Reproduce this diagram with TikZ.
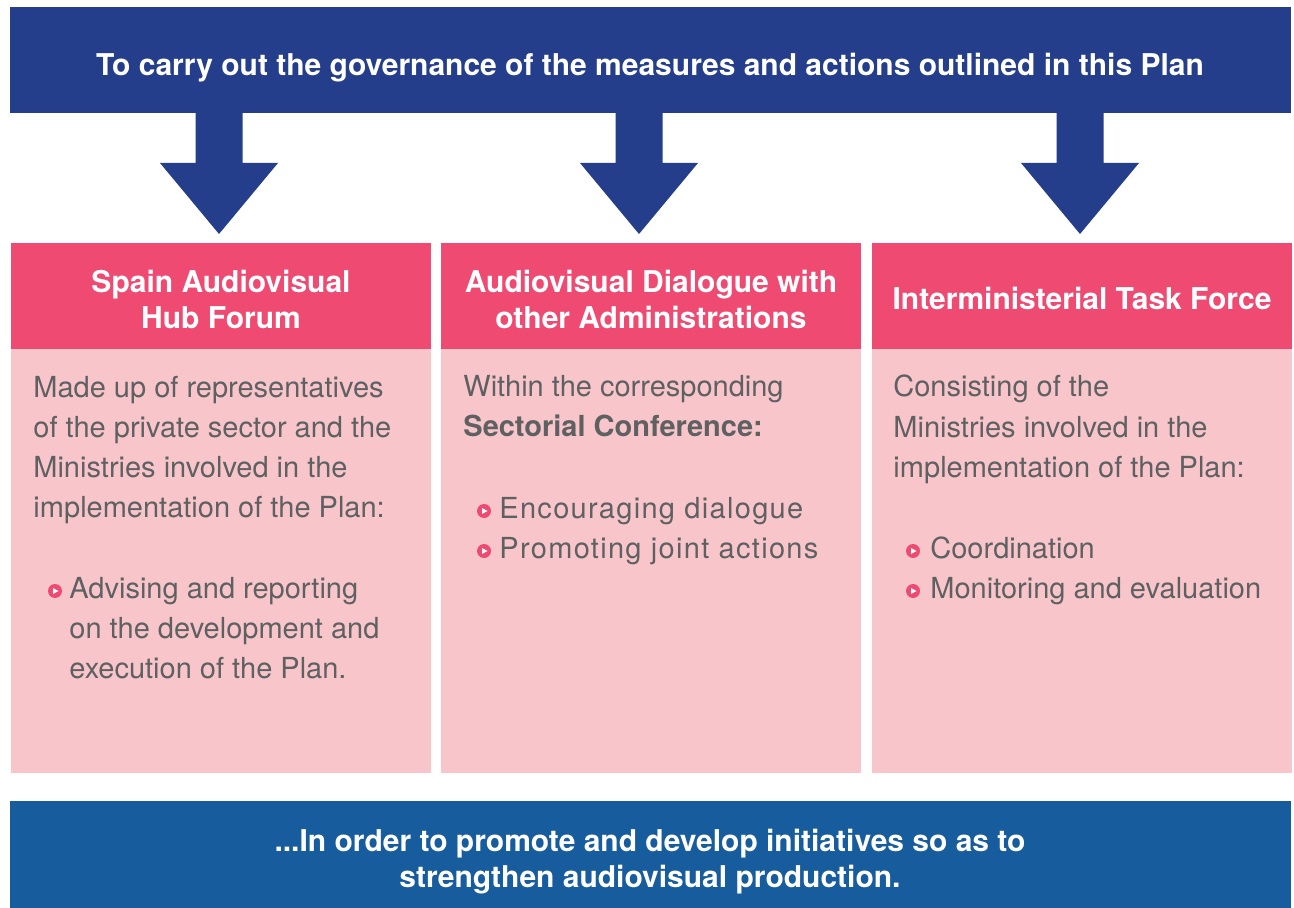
\documentclass[tikz,border=0pt]{standalone}
\usepackage{fontspec}
\setmainfont{TeX Gyre Heros}
\usepackage{tikz}

\definecolor{topblue}{HTML}{253E8B}
\definecolor{botblue}{HTML}{175C9C}
\definecolor{headpink}{HTML}{EF4A72}
\definecolor{bodypink}{HTML}{F8C6CA}
\definecolor{textgrey}{HTML}{5F6062}

\tikzset{
  band/.style={inner sep=0pt, minimum width=640.5pt, minimum height=53pt},
  headbox/.style={fill=headpink, inner sep=0pt, minimum width=210pt, minimum height=53pt},
  bodybox/.style={fill=bodypink, inner sep=0pt, minimum width=210pt, minimum height=212pt},
  headtext/.style={text=white, font=\bfseries\fontsize{15}{18}\selectfont, align=center, inner sep=0pt},
  bodytext/.style={text=textgrey, font=\fontsize{14.5}{20}\selectfont, align=left, inner sep=0pt}
}

\begin{document}
\begin{tikzpicture}[x=0.5pt,y=-0.5pt]
 \useasboundingbox (0,0) rectangle (1294,908);
 % banners
 \node[band, fill=topblue] (plan) at (650.5,60) {};
 \node[band, fill=botblue, minimum height=53.5pt] (aim) at (650.5,854.5) {};
 % the three bodies
 \node[headbox] (h1) at (221,296) {};
 \node[headbox] (h2) at (651,296) {};
 \node[headbox] (h3) at (1082,296) {};
 \node[bodybox] (c1) at (221,561) {};
 \node[bodybox] (c2) at (651,561) {};
 \node[bodybox] (c3) at (1082,561) {};
 % block arrows
 \foreach \x in {219,639,1080}
  \fill[topblue] ({\x-23.5},113) -- ({\x-23.5},163) -- ({\x-59},163) -- (\x,234)
   -- ({\x+59},163) -- ({\x+23.5},163) -- ({\x+23.5},113) -- cycle;
 % texts (base = last line)
 \node[headtext, anchor=base] (plantext) at (650,76) {To carry out the governance of the measures and actions outlined in this Plan};
 \node[headtext, anchor=base] (t1) at (221,329) {Spain Audiovisual\\Hub Forum};
 \node[headtext, anchor=base] (t2) at (651,329) {Audiovisual Dialogue with\\other Administrations};
 \node[headtext, anchor=base] (t3) at (1082,310) {Interministerial Task Force};
 \node[headtext, anchor=base] (aimtext) at (650,887) {...In order to promote and develop initiatives so as to\\strengthen audiovisual production.};
 \node[bodytext, anchor=base west] (d1) at (33,517) {Made up of representatives\\of the private sector and the\\Ministries involved in the\\implementation of the Plan:};
 \node[bodytext, anchor=base west] (b1) at (69,678) {Advising and reporting\\on the development and\\execution of the Plan.};
 \node[bodytext, anchor=base west] (d2) at (463,437) {Within the corresponding\\\textbf{Sectorial Conference:}};
 \node[bodytext, anchor=base west, font=\fontsize{14.5}{20}\selectfont\addfontfeature{LetterSpace=4.5}] (b2) at (499,558) {Encouraging dialogue\\Promoting joint actions};
 \node[bodytext, anchor=base west] (d3) at (893,477) {Consisting of the\\Ministries involved in the\\implementation of the Plan:};
 \node[bodytext, anchor=base west] (b3) at (930,598) {Coordination\\Monitoring and evaluation};
 % bullets
 \foreach \x/\y in {55/591, 484/511, 484/551, 913/551, 913/591} {
  \fill[headpink] (\x,\y) circle (3.5pt);
  \fill[white] ({\x-2},{\y-3}) -- ({\x+3.5},\y) -- ({\x-2},{\y+3}) -- cycle;
 }
\end{tikzpicture}
\end{document}
